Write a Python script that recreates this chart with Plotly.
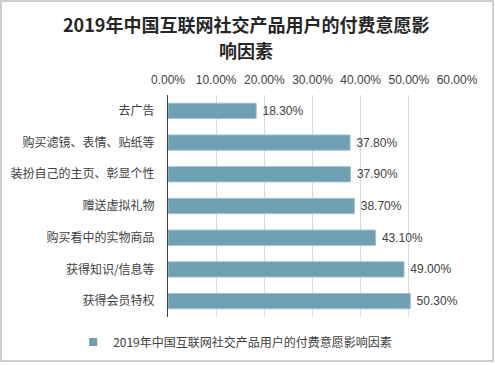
import plotly.graph_objects as go

categories = ["去广告", "购买滤镜、表情、贴纸等", "装扮自己的主页、彰显个性", "赠送虚拟礼物",
              "购买看中的实物商品", "获得知识/信息等", "获得会员特权"]
values = [0.183, 0.378, 0.379, 0.387, 0.431, 0.490, 0.503]
series_name = "2019年中国互联网社交产品用户的付费意愿影响因素"
title_line1 = "2019年中国互联网社交产品用户的付费意愿影"
title_line2 = "响因素"

W, H = 495, 365
L, R, T, B = 168, 38, 95, 48
pw, ph = W - L - R, H - T - B

def px2x(p):
    return (p - L) / pw

def py2y(p):
    return (H - B - p) / ph

font_fam = "Liberation Sans, Noto Sans CJK SC, sans-serif"
cjk = "Noto Sans CJK SC, sans-serif"
bar_color = "#6f9fb3"

fig = go.Figure()
fig.add_trace(go.Bar(
    x=values, y=categories, orientation="h", name=series_name, showlegend=False,
    marker=dict(color=bar_color, line=dict(color="#9fc0cd", width=1)),
    text=["\u00a0" + f"{v*100:.2f}%" for v in values], textposition="outside",
    textfont=dict(size=12, color="#404040", family=font_fam),
    cliponaxis=False, width=0.48,
))
fig.add_trace(go.Scatter(
    x=[None], y=[None], mode="markers", name=series_name,
    marker=dict(symbol="square", size=8, color=bar_color),
))

fig.update_layout(
    width=W, height=H,
    margin=dict(l=L, r=R, t=T, b=B, autoexpand=False),
    paper_bgcolor="white", plot_bgcolor="white",
    font=dict(family=font_fam, size=12, color="#404040"),
    xaxis=dict(side="top", range=[0, 0.6], dtick=0.1, tickformat=".2%",
               showgrid=True, gridcolor="#d9d9d9", gridwidth=1, zeroline=False,
               showline=False, ticks="", ticklabelstandoff=8,
               tickfont=dict(size=12, color="#404040")),
    yaxis=dict(autorange="reversed", showline=True, linecolor="#404040", linewidth=1,
               ticks="", showgrid=False, ticklabelstandoff=10,
               tickfont=dict(size=12, color="#404040", family=cjk)),
    legend=dict(orientation="h", x=0.475, xanchor="center", xref="container",
                y=py2y(342), yanchor="middle", itemwidth=30,
                font=dict(size=12, color="#404040", family=cjk)),
    showlegend=True,
    annotations=[
        dict(text="<b>" + title_line1 + "</b>", xref="paper", yref="paper",
             x=px2x(246), y=py2y(24), xanchor="center", yanchor="middle", showarrow=False,
             font=dict(size=18, color="#262626", family=cjk)),
        dict(text="<b>" + title_line2 + "</b>", xref="paper", yref="paper",
             x=px2x(246), y=py2y(50), xanchor="center", yanchor="middle", showarrow=False,
             font=dict(size=18, color="#262626", family=cjk)),
    ],
    shapes=[dict(type="rect", xref="paper", yref="paper",
                 x0=px2x(1), x1=px2x(493), y0=py2y(361), y1=py2y(1),
                 line=dict(color="#c0c0c0", width=1.5), layer="below")],
)

fig.write_html("out.html", config={"displayModeBar": False},
               post_script="document.body.style.margin='0';")
